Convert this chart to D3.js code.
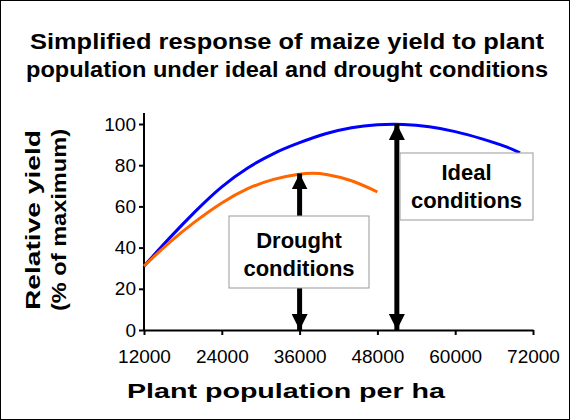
<!DOCTYPE html>
<html><head><meta charset="UTF-8">
<script src="https://d3js.org/d3.v7.min.js"></script>
<style>body{margin:0;background:#fff}svg{display:block;font-family:"Liberation Sans",Arial,sans-serif}</style>
</head><body><svg id="chart"></svg>
<script>
const xTicks = [12000, 24000, 36000, 48000, 60000, 72000];
const yTicks = [0, 20, 40, 60, 80, 100];
const idealX = [12000,16000,20000,24000,28000,32000,36000,40000,44000,48000,52000,56000,60000,64000,68000,70000];
const idealY = [31,45,58,70,79,86,91,95.5,98.5,99.8,100,98.8,96.5,93,89,86];
const droughtX = [12000,16000,20000,24000,28000,32000,36000,38000,40000,44000,48000];
const droughtY = [31,43,53,62,69,73.5,75.8,76.2,75.8,73,67];

const width = 570, height = 420;
const svg = d3.select("#chart").attr("width", width).attr("height", height);
svg.append("rect").attr("x",0.5).attr("y",0.5).attr("width",width-1).attr("height",height-1)
  .attr("fill","#fff").attr("stroke","#000");

const x = d3.scaleLinear().domain([12000,72000]).range([144,533]);
const y = d3.scaleLinear().domain([0,100]).range([330,124]);

function label(tx, ty, size, len, txt, rot) {
  const t = svg.append("text").attr("text-anchor","middle").attr("font-size",size)
    .attr("font-weight","bold").attr("textLength",len).attr("lengthAdjust","spacingAndGlyphs").text(txt);
  if (rot) t.attr("transform",`translate(${tx},${ty}) rotate(-90)`);
  else t.attr("x",tx).attr("y",ty);
}
label(287, 49, 22, 514, "Simplified response of maize yield to plant");
label(287, 77, 22, 522, "population under ideal and drought conditions");

const gx = svg.append("g").attr("transform","translate(0,330)")
  .call(d3.axisBottom(x).tickValues(xTicks).tickFormat(d3.format("d")).tickSize(5).tickSizeOuter(0));
gx.select(".domain").attr("stroke-width",2);
gx.selectAll(".tick line").attr("stroke-width",2);
gx.selectAll("text").attr("font-size",19).attr("dy","1.3em");

const gy = svg.append("g").attr("transform","translate(144,0)")
  .call(d3.axisLeft(y).tickValues(yTicks).tickSize(5).tickSizeOuter(0));
gy.select(".domain").attr("d","M0,113V330").attr("stroke-width",2);
gy.selectAll(".tick line").attr("stroke-width",2);
gy.selectAll("text").attr("font-size",19);

const line = d3.line().curve(d3.curveBasis);
svg.append("path").attr("d", line(idealX.map((v,i)=>[x(v),y(idealY[i])])))
  .attr("fill","none").attr("stroke","#0000ff").attr("stroke-width",3);
svg.append("path").attr("d", line(droughtX.map((v,i)=>[x(v),y(droughtY[i])])))
  .attr("fill","none").attr("stroke","#ff6600").attr("stroke-width",3);

svg.append("defs").append("marker").attr("id","ah").attr("viewBox","0 0 10 10").attr("refX",10).attr("refY",5)
  .attr("markerWidth",3.2).attr("markerHeight",3.2).attr("markerUnits","strokeWidth").attr("orient","auto-start-reverse")
  .append("path").attr("d","M0,0L10,5L0,10Z").attr("fill","#000");

function arrow(px, top) {
  svg.append("line").attr("x1",x(px)).attr("x2",x(px)).attr("y1",y(0)).attr("y2",y(top))
    .attr("stroke","#000").attr("stroke-width",5)
    .attr("marker-start","url(#ah)").attr("marker-end","url(#ah)");
}
arrow(36000, 76);
arrow(51000, 100);

function box(x0,y0,w,h,lines,cy) {
  svg.append("rect").attr("x",x0).attr("y",y0).attr("width",w).attr("height",h)
    .attr("fill","#fff").attr("stroke","#999");
  lines.forEach((t,i)=>svg.append("text").attr("x",x0+w/2).attr("y",cy+i*28)
    .attr("text-anchor","middle").attr("font-size",22).attr("font-weight","bold").text(t));
}
box(229,216,140,72,["Drought","conditions"],248);
box(400,153,133,67,["Ideal","conditions"],180);

label(40, 220, 20, 180, "Relative yield", true);
label(66, 220, 20, 182, "(% of maximum)", true);
label(286, 398, 21, 318, "Plant population per ha");
</script></body></html>
